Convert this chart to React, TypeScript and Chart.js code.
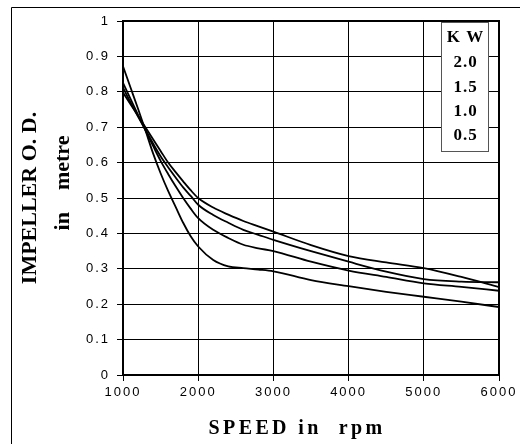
import React, { useEffect, useRef } from 'react';
import { Chart, registerables } from 'chart.js';

Chart.register(...registerables);

// Speed (rpm) sample points
const speedRpm = [1000, 1100, 1200, 1300, 1400, 1500, 1600, 1700, 1800, 1900, 2000, 2200, 2400, 2600, 2800, 3000, 3500, 4000, 4500, 5000, 5500, 6000];

// Impeller O.D. (m) per power rating
const od20kw = [0.798, 0.765, 0.732, 0.699, 0.666, 0.633, 0.600, 0.573, 0.547, 0.522, 0.500, 0.473, 0.453, 0.435, 0.420, 0.405, 0.367, 0.336, 0.318, 0.302, 0.277, 0.248];
const od15kw = [0.812, 0.770, 0.730, 0.692, 0.654, 0.618, 0.587, 0.558, 0.530, 0.506, 0.481, 0.452, 0.430, 0.410, 0.396, 0.382, 0.350, 0.320, 0.292, 0.271, 0.264, 0.262];
const od10kw = [0.825, 0.780, 0.735, 0.690, 0.647, 0.605, 0.568, 0.533, 0.500, 0.470, 0.443, 0.410, 0.387, 0.368, 0.358, 0.350, 0.320, 0.295, 0.277, 0.259, 0.249, 0.238];
const od05kw = [0.872, 0.812, 0.752, 0.690, 0.626, 0.570, 0.520, 0.475, 0.430, 0.392, 0.363, 0.325, 0.307, 0.302, 0.298, 0.293, 0.268, 0.251, 0.235, 0.221, 0.207, 0.192];

const xTicks = [1000, 2000, 3000, 4000, 5000, 6000];
const yTicks = [0, 0.1, 0.2, 0.3, 0.4, 0.5, 0.6, 0.7, 0.8, 0.9, 1];
const yTickLabels = ['0', '0.1', '0.2', '0.3', '0.4', '0.5', '0.6', '0.7', '0.8', '0.9', '1'];

const legendTitle = 'K W';
const legendLabels = ['2.0', '1.5', '1.0', '0.5'];
const xTitle = 'SPEED in  rpm';
const yTitleLines = ['IMPELLER O. D.', 'in    metre'];

const seriesList = [od20kw, od15kw, od10kw, od05kw];

export default function App() {
  const ref = useRef<HTMLCanvasElement | null>(null);

  useEffect(() => {
    const canvas = ref.current;
    if (!canvas) return;

    const decor = {
      id: 'decor',
      beforeDraw(chart: any) {
        const ctx = chart.ctx;
        ctx.save();
        ctx.fillStyle = '#ffffff';
        ctx.fillRect(0, 0, chart.width, chart.height);
        ctx.strokeStyle = '#000';
        ctx.lineWidth = 1;
        ctx.beginPath();
        ctx.moveTo(11.5, chart.height);
        ctx.lineTo(11.5, 7.5);
        ctx.lineTo(chart.width, 7.5);
        ctx.stroke();
        ctx.restore();
        ctx.letterSpacing = '2px';
      },
      afterDraw(chart: any) {
        const ctx = chart.ctx;
        const a = chart.chartArea;
        ctx.save();
        ctx.letterSpacing = '0px';
        // plot frame
        ctx.strokeStyle = '#000';
        ctx.lineWidth = 2;
        ctx.strokeRect(a.left, a.top, a.right - a.left, a.bottom - a.top);

        // x title
        ctx.fillStyle = '#000';
        ctx.textAlign = 'center';
        ctx.textBaseline = 'middle';
        ctx.font = 'bold 20px "Liberation Serif"';
        ctx.letterSpacing = '3.4px';
        ctx.fillText(xTitle, 297, 429);

        // y title (rotated)
        ctx.letterSpacing = '0px';
        ctx.font = 'bold 22px "Liberation Serif"';
        ctx.save();
        ctx.translate(30, 198);
        ctx.rotate(-Math.PI / 2);
        ctx.fillText(yTitleLines[0], 0, 0);
        ctx.restore();
        ctx.save();
        ctx.translate(63, 183);
        ctx.rotate(-Math.PI / 2);
        ctx.fillText(yTitleLines[1], 0, 0);
        ctx.restore();

        // legend box
        ctx.fillStyle = '#fff';
        ctx.fillRect(441, 22, 48, 130);
        ctx.strokeStyle = '#555';
        ctx.lineWidth = 1;
        ctx.strokeRect(441.5, 22.5, 47, 129);
        ctx.fillStyle = '#000';
        ctx.font = 'bold 17px "Liberation Serif"';
        ctx.letterSpacing = '1px';
        const cx = 465.5;
        ctx.fillText(legendTitle, cx, 38);
        legendLabels.forEach((t, i) => ctx.fillText(t, cx, 63 + i * 24.2));
        ctx.restore();
      },
    };

    const chart = new Chart(canvas, {
      type: 'line',
      data: {
        datasets: seriesList.map((vals, i) => ({
          label: legendLabels[i] + ' KW',
          data: speedRpm.map((s, j) => ({ x: s, y: vals[j] })),
          borderColor: '#000',
          borderWidth: 1.8,
          pointRadius: 0,
          fill: false,
          cubicInterpolationMode: 'monotone' as const,
        })),
      },
      options: {
        animation: false,
        responsive: false,
        maintainAspectRatio: false,
        layout: { padding: { top: 21, right: 21, bottom: 0, left: 0 } },
        plugins: {
          legend: { display: false },
          tooltip: { enabled: false },
          title: { display: false },
        },
        scales: {
          x: {
            type: 'linear',
            min: 1000,
            max: 6000,
            afterBuildTicks: (s: any) => { s.ticks = xTicks.map((v) => ({ value: v })); },
            afterFit: (s: any) => { s.height = 69; },
            grid: { color: '#000', lineWidth: 1, tickLength: 6, drawTicks: true, tickColor: '#000' },
            border: { display: true, color: '#000', width: 2 },
            ticks: {
              color: '#000',
              font: { family: '"Liberation Sans"', size: 13 },
              padding: 4,
              maxRotation: 0,
              autoSkip: false,
              callback: (v: any) => String(v),
            },
          },
          y: {
            type: 'linear',
            min: 0,
            max: 1,
            afterBuildTicks: (s: any) => { s.ticks = yTicks.map((v) => ({ value: v })); },
            afterFit: (s: any) => { s.width = 123; },
            grid: { color: '#000', lineWidth: 1, tickLength: 6, drawTicks: true, tickColor: '#000' },
            border: { display: true, color: '#000', width: 2 },
            ticks: {
              color: '#000',
              font: { family: '"Liberation Sans"', size: 13 },
              padding: 7,
              autoSkip: false,
              callback: (v: any) => {
                const idx = yTicks.findIndex((t) => Math.abs(t - Number(v)) < 1e-6);
                return idx >= 0 ? yTickLabels[idx] : '';
              },
            },
          },
        },
      },
      plugins: [decor],
    });

    return () => chart.destroy();
  }, []);

  return (
    <div style={{ position: 'fixed', left: 0, top: 0, width: 520, height: 444, background: '#fff' }}>
      <canvas ref={ref} width={520} height={444} style={{ width: 520, height: 444, display: 'block' }} />
    </div>
  );
}
